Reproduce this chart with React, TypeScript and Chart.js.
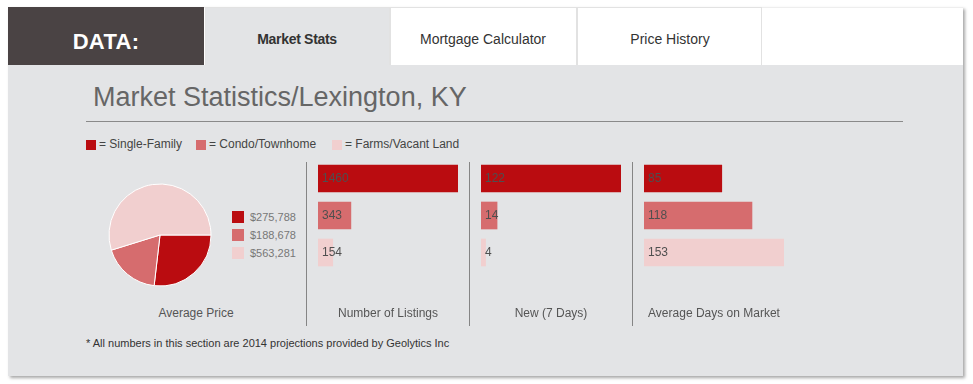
import React, { useEffect, useRef } from "react";
import { Chart, registerables } from "chart.js";

Chart.register(...registerables);

// ---- data ----
const categories = ["Single-Family", "Condo/Townhome", "Farms/Vacant Land"];
const seriesColors = ["#BA0C10", "#D66C6E", "#F1CFCF"];
const averagePrice = [275788, 188678, 563281];
const numberOfListings = [1460, 343, 154];
const newListings7Days = [122, 14, 4];
const averageDaysOnMarket = [85, 118, 153];
const panelCaptions = ["Average Price", "Number of Listings", "New (7 Days)", "Average Days on Market"];
const tabLabels = ["Market Stats", "Mortgage Calculator", "Price History"];
const pageTitle = "Market Statistics/Lexington, KY";
const footnote = "* All numbers in this section are 2014 projections provided by Geolytics Inc";

const FONT = 'Arial, "Liberation Sans", sans-serif';

type TextProps = {
  x: number;
  baseline: number;
  size: number;
  color: string;
  bold?: boolean;
  align?: "left" | "center";
  children: React.ReactNode;
  spacing?: number;
};

function Txt({ x, baseline, size, color, bold, align = "left", children, spacing }: TextProps) {
  const top = baseline - 0.8465 * size;
  const style: React.CSSProperties = {
    position: "absolute",
    top,
    fontFamily: FONT,
    fontSize: size,
    lineHeight: `${size}px`,
    color,
    fontWeight: bold ? 700 : 400,
    whiteSpace: "nowrap",
    letterSpacing: spacing,
  };
  if (align === "center") {
    style.left = x - 200;
    style.width = 400;
    style.textAlign = "center";
  } else {
    style.left = x;
  }
  return <div style={style}>{children}</div>;
}

const barLabelPlugin = {
  id: "barLabels",
  afterDatasetsDraw(chart: any) {
    const ctx = chart.ctx as CanvasRenderingContext2D;
    const meta = chart.getDatasetMeta(0);
    const data = chart.data.datasets[0].data as number[];
    ctx.save();
    ctx.font = `12px ${FONT}`;
    ctx.fillStyle = "#4f4f4f";
    ctx.textBaseline = "middle";
    ctx.textAlign = "left";
    meta.data.forEach((el: any, i: number) => {
      const p = el.getProps(["y", "base"], true);
      ctx.fillText(String(data[i]), p.base + 4, p.y + 0.5);
    });
    ctx.restore();
  },
};

function BarPanel({ values, left }: { values: number[]; left: number }) {
  const ref = useRef<HTMLCanvasElement>(null);
  useEffect(() => {
    const chart = new Chart(ref.current!, {
      type: "bar",
      data: {
        labels: categories,
        datasets: [
          {
            data: values,
            backgroundColor: seriesColors,
            borderWidth: 0,
            barThickness: 27,
          },
        ],
      },
      options: {
        indexAxis: "y",
        responsive: false,
        animation: false,
        layout: { padding: { left: 0, right: 40, top: 0, bottom: 0 } },
        scales: {
          x: { display: false, min: 0, max: Math.max(...values) },
          y: { display: false },
        },
        plugins: { legend: { display: false }, tooltip: { enabled: false } },
      },
      plugins: [barLabelPlugin],
    } as any);
    return () => chart.destroy();
  }, []);
  return (
    <canvas
      ref={ref}
      width={180}
      height={111}
      style={{ position: "absolute", left, top: 160, width: 180, height: 111 }}
    />
  );
}

function PiePanel() {
  const ref = useRef<HTMLCanvasElement>(null);
  useEffect(() => {
    const chart = new Chart(ref.current!, {
      type: "pie",
      data: {
        labels: categories,
        datasets: [
          {
            data: averagePrice,
            backgroundColor: seriesColors,
            borderColor: "#ffffff",
            borderWidth: 1,
          },
        ],
      },
      options: {
        responsive: false,
        animation: false,
        rotation: 90,
        radius: 51,
        layout: { padding: 0 },
        plugins: { legend: { display: false }, tooltip: { enabled: false } },
      },
    } as any);
    return () => chart.destroy();
  }, []);
  return (
    <canvas
      ref={ref}
      width={104}
      height={104}
      style={{ position: "absolute", left: 108, top: 183, width: 104, height: 104 }}
    />
  );
}

export default function App() {
  const abs = (s: React.CSSProperties): React.CSSProperties => ({ position: "absolute", ...s });
  const legendX = [86, 196, 332];
  const legendTextX = [99, 209, 345];
  const captionX = [196, 388, 551, 714];
  const dividerX = [306, 469, 632];
  const tabLeft = [205, 390, 577];
  const tabWidth = [185, 187, 185];
  const tabCenter = [297, 483, 670];

  return (
    <div style={abs({ left: 0, top: 0, width: 973, height: 384 })}>
      {/* outer box */}
      <div
        style={abs({
          left: 8,
          top: 7,
          width: 955,
          height: 369,
          background: "#ffffff",
          boxShadow: "2px 2px 3px rgba(0,0,0,0.35)",
          borderTop: "1px solid #eeeeee",
          boxSizing: "border-box",
        })}
      />
      {/* DATA tile */}
      <div style={abs({ left: 8, top: 7, width: 196, height: 58, background: "#4A4344" })} />
      <Txt x={106} baseline={50} size={22} color="#ffffff" bold align="center" spacing={0.3}>
        DATA:
      </Txt>
      {/* tabs */}
      {tabLabels.map((t, i) => (
        <div
          key={t}
          style={abs({
            left: tabLeft[i],
            top: 7,
            width: tabWidth[i],
            height: 58,
            background: i === 0 ? "#E3E4E6" : "#ffffff",
            border: "1px solid #e2e2e2",
            borderBottom: "none",
            boxSizing: "border-box",
          })}
        />
      ))}
      {tabLabels.map((t, i) => (
        <Txt
          key={"t" + t}
          x={tabCenter[i]}
          baseline={44}
          size={14}
          color="#333333"
          bold={i === 0}
          spacing={i === 0 ? -0.3 : undefined}
          align="center"
        >
          {t}
        </Txt>
      ))}
      {/* panel */}
      <div style={abs({ left: 8, top: 65, width: 955, height: 311, background: "#E3E4E6" })} />
      <Txt x={93} baseline={107} size={27} color="#666666">
        {pageTitle}
      </Txt>
      <div style={abs({ left: 86, top: 121, width: 817, height: 1, background: "#8a8a8a" })} />
      {/* legend */}
      {categories.map((c, i) => (
        <React.Fragment key={c}>
          <div style={abs({ left: legendX[i], top: 140, width: 10, height: 10, background: seriesColors[i] })} />
          <Txt x={legendTextX[i]} baseline={148} size={12} color="#444444">
            {"= " + c}
          </Txt>
        </React.Fragment>
      ))}
      {/* pie */}
      <PiePanel />
      {averagePrice.map((v, i) => (
        <React.Fragment key={"p" + i}>
          <div style={abs({ left: 232, top: 211 + i * 18, width: 12, height: 12, background: seriesColors[i] })} />
          <Txt x={250} baseline={221 + i * 18} size={11} color="#777777">
            {"$" + v.toLocaleString("en-US")}
          </Txt>
        </React.Fragment>
      ))}
      {/* bars */}
      <BarPanel values={numberOfListings} left={318} />
      <BarPanel values={newListings7Days} left={481} />
      <BarPanel values={averageDaysOnMarket} left={644} />
      {/* dividers */}
      {dividerX.map((x) => (
        <div key={x} style={abs({ left: x, top: 162, width: 1, height: 164, background: "#858585" })} />
      ))}
      {/* captions */}
      {panelCaptions.map((c, i) => (
        <Txt key={c} x={captionX[i]} baseline={317.5} size={12} color="#555555" align="center">
          {c}
        </Txt>
      ))}
      <Txt x={86} baseline={347.5} size={11} color="#333333">
        {footnote}
      </Txt>
    </div>
  );
}
